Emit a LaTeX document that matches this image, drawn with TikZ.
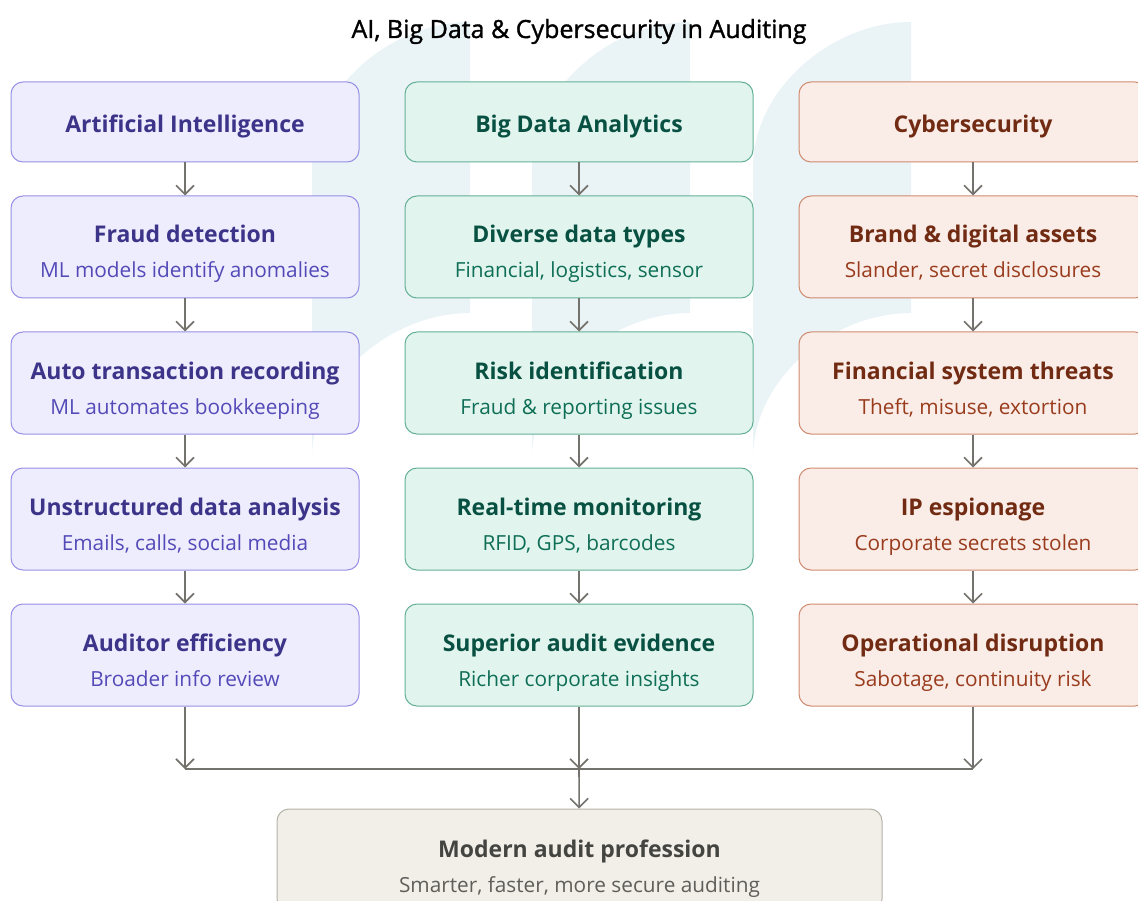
\documentclass[tikz,border=0pt]{standalone}
\usepackage{fontspec}
\setmainfont{Open Sans}
\usetikzlibrary{arrows.meta}
\definecolor{wmark}{RGB}{234,243,246}
\definecolor{arrowgray}{RGB}{115,114,108}
\definecolor{aifill}{RGB}{238,237,254}
\definecolor{ailine}{RGB}{150,143,228}
\definecolor{aidark}{RGB}{60,52,137}
\definecolor{aisub}{RGB}{83,74,183}
\definecolor{bdfill}{RGB}{225,245,238}
\definecolor{bdline}{RGB}{100,176,150}
\definecolor{bddark}{RGB}{8,80,65}
\definecolor{bdsub}{RGB}{15,110,86}
\definecolor{csfill}{RGB}{250,236,231}
\definecolor{csline}{RGB}{208,138,112}
\definecolor{csdark}{RGB}{113,43,19}
\definecolor{cssub}{RGB}{153,60,29}
\definecolor{mafill}{RGB}{241,239,232}
\definecolor{maline}{RGB}{180,178,169}
\definecolor{madark}{RGB}{68,68,65}
\definecolor{masub}{RGB}{95,94,90}

\begin{document}
\begin{tikzpicture}[x=1pt, y=-1pt,
	box/.style={rounded corners=12pt, line width=1pt, minimum width=348pt, minimum height=102pt, inner sep=0pt},
	headbox/.style={box, minimum height=80pt},
	hd/.style={anchor=base, font=\fontsize{23}{27}\selectfont\bfseries},
	sb/.style={anchor=base, font=\fontsize{20.8}{24}\selectfont},
	aibox/.style={box, draw=ailine, fill=aifill}, aihd/.style={hd, text=aidark}, aisb/.style={sb, text=aisub},
	bdbox/.style={box, draw=bdline, fill=bdfill}, bdhd/.style={hd, text=bddark}, bdsb/.style={sb, text=bdsub},
	csbox/.style={box, draw=csline, fill=csfill}, cshd/.style={hd, text=csdark}, cssb/.style={sb, text=cssub},
	arr/.style={draw=arrowgray, line width=1.6pt, -{Straight Barb[length=9pt, width=18pt]}},
	link/.style={draw=arrowgray, line width=1.6pt}]
	\useasboundingbox (0,0) rectangle (1138,901);
	% watermark
	\fill[wmark] (470,22) -- (470,313) .. controls (390,313) and (312,380) .. (312,458) -- (312,167) .. controls (312,90) and (390,22) .. cycle;
	\fill[wmark] (690,22) -- (690,313) .. controls (610,313) and (532,380) .. (532,458) -- (532,167) .. controls (532,90) and (610,22) .. cycle;
	\fill[wmark] (911,22) -- (911,313) .. controls (831,313) and (753,380) .. (753,458) -- (753,167) .. controls (753,90) and (831,22) .. cycle;
	\node[anchor=base, font=\fontsize{25}{30}\selectfont\addfontfeatures{FakeBold=1.3}] (title) at (579,38) {AI, Big Data \& Cybersecurity in Auditing};

	% Artificial Intelligence
	\node[aibox, headbox] (ai0) at (185,122) {};
	\node[aihd] (ai0h) at (185,133) {Artificial Intelligence};
	\node[aibox] (ai1) at (185,247) {};
	\node[aihd] (ai1h) at (185,243) {Fraud detection};
	\node[aisb] (ai1s) at (185,278) {ML models identify anomalies};
	\node[aibox] (ai2) at (185,383) {};
	\node[aihd] (ai2h) at (185,379) {Auto transaction recording};
	\node[aisb] (ai2s) at (185,414) {ML automates bookkeeping};
	\node[aibox] (ai3) at (185,519) {};
	\node[aihd] (ai3h) at (185,515) {Unstructured data analysis};
	\node[aisb] (ai3s) at (185,550) {Emails, calls, social media};
	\node[aibox] (ai4) at (185,655) {};
	\node[aihd] (ai4h) at (185,651) {Auditor efficiency};
	\node[aisb] (ai4s) at (185,686) {Broader info review};

	% Big Data Analytics
	\node[bdbox, headbox] (bd0) at (579,122) {};
	\node[bdhd] (bd0h) at (579,133) {Big Data Analytics};
	\node[bdbox] (bd1) at (579,247) {};
	\node[bdhd] (bd1h) at (579,243) {Diverse data types};
	\node[bdsb] (bd1s) at (579,278) {Financial, logistics, sensor};
	\node[bdbox] (bd2) at (579,383) {};
	\node[bdhd] (bd2h) at (579,379) {Risk identification};
	\node[bdsb] (bd2s) at (579,414) {Fraud \& reporting issues};
	\node[bdbox] (bd3) at (579,519) {};
	\node[bdhd] (bd3h) at (579,515) {Real-time monitoring};
	\node[bdsb] (bd3s) at (579,550) {RFID, GPS, barcodes};
	\node[bdbox] (bd4) at (579,655) {};
	\node[bdhd] (bd4h) at (579,651) {Superior audit evidence};
	\node[bdsb] (bd4s) at (579,686) {Richer corporate insights};

	% Cybersecurity
	\node[csbox, headbox] (cs0) at (973,122) {};
	\node[cshd] (cs0h) at (973,133) {Cybersecurity};
	\node[csbox] (cs1) at (973,247) {};
	\node[cshd] (cs1h) at (973,243) {Brand \& digital assets};
	\node[cssb] (cs1s) at (973,278) {Slander, secret disclosures};
	\node[csbox] (cs2) at (973,383) {};
	\node[cshd] (cs2h) at (973,379) {Financial system threats};
	\node[cssb] (cs2s) at (973,414) {Theft, misuse, extortion};
	\node[csbox] (cs3) at (973,519) {};
	\node[cshd] (cs3h) at (973,515) {IP espionage};
	\node[cssb] (cs3s) at (973,550) {Corporate secrets stolen};
	\node[csbox] (cs4) at (973,655) {};
	\node[cshd] (cs4h) at (973,651) {Operational disruption};
	\node[cssb] (cs4s) at (973,686) {Sabotage, continuity risk};

	% Modern audit profession
	\node[box, draw=maline, fill=mafill, minimum width=605pt] (ma) at (579.5,860) {};
	\node[hd, text=madark] (mah) at (579.5,857) {Modern audit profession};
	\node[sb, text=masub] (mas) at (579.5,892) {Smarter, faster, more secure auditing};

	\draw[arr] (ai0) -- (ai1);
	\draw[arr] (ai1) -- (ai2);
	\draw[arr] (ai2) -- (ai3);
	\draw[arr] (ai3) -- (ai4);
	\draw[arr] (bd0) -- (bd1);
	\draw[arr] (bd1) -- (bd2);
	\draw[arr] (bd2) -- (bd3);
	\draw[arr] (bd3) -- (bd4);
	\draw[arr] (cs0) -- (cs1);
	\draw[arr] (cs1) -- (cs2);
	\draw[arr] (cs2) -- (cs3);
	\draw[arr] (cs3) -- (cs4);

	\coordinate (jl) at (185,769);
	\coordinate (jm) at (579,769);
	\coordinate (jr) at (973,769);
	\draw[arr] (ai4) -- (jl);
	\draw[arr] (bd4) -- (jm);
	\draw[arr] (cs4) -- (jr);
	\draw[link] (jl) -- (jr);
	\draw[arr] (jm) -- (ma);
\end{tikzpicture}
\end{document}
